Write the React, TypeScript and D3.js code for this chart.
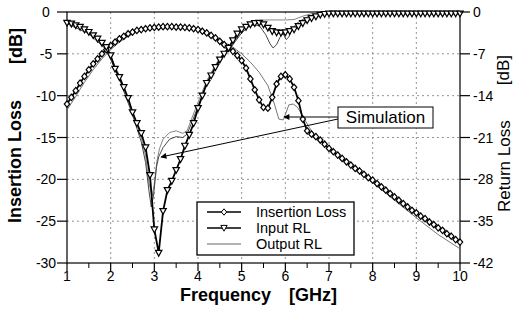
import React from "react";
import * as d3 from "d3";

// Measured sweep: 1.0 .. 10.0 GHz, 0.1 GHz step
const freqs: number[] = d3.range(0, 91).map((i) => 1 + i / 10);

// Insertion Loss [dB] (left axis)
const insertionLoss: number[] = [
  -11.0, -10.2, -9.4, -8.5, -7.7, -6.9, -6.2, -5.6, -5.0, -4.5,
  -4.0, -3.6, -3.2, -2.9, -2.6, -2.4, -2.2, -2.1, -2.0, -1.9,
  -1.85, -1.8, -1.75, -1.75, -1.75, -1.8, -1.8, -1.85, -1.9, -2.0,
  -2.1, -2.3, -2.5, -2.8, -3.1, -3.5, -3.9, -4.3, -4.7, -5.2,
  -5.8, -6.7, -8.0, -9.3, -10.5, -11.4, -11.5, -10.2, -8.6, -7.7,
  -7.5, -8.0, -9.0, -10.6, -12.8, -14.2, -14.6, -14.9, -15.3, -15.8,
  -16.3, -16.7, -17.1, -17.5, -17.9, -18.3, -18.7, -19.0, -19.4, -19.8,
  -20.1, -20.5, -20.9, -21.3, -21.7, -22.1, -22.5, -22.9, -23.3, -23.7,
  -24.0, -24.4, -24.7, -25.1, -25.4, -25.8, -26.1, -26.5, -26.8, -27.2,
  -27.5,
];

// Input RL (in left-axis units; right axis shares the same scale as 0..-42)
const inputRL: number[] = [
  -1.3, -1.4, -1.6, -1.8, -2.1, -2.4, -2.8, -3.2, -3.7, -4.2,
  -5.2, -6.8, -7.8, -9.0, -10.3, -12.0, -13.3, -14.5, -16.2, -19.5,
  -26.0, -28.8, -23.8, -21.3, -20.2, -18.9, -17.6, -16.0, -14.7, -13.3,
  -11.5, -10.0, -8.5, -7.6, -6.6, -5.7, -5.0, -4.3, -3.4, -2.6,
  -2.1, -1.8, -1.5, -1.35, -1.3, -1.5, -1.9, -2.3, -2.45, -2.5,
  -2.45, -2.3, -2.1, -1.7, -1.35, -1.0, -0.75, -0.55, -0.35, -0.25,
  -0.2, -0.2, -0.2, -0.2, -0.2, -0.2, -0.2, -0.2, -0.2, -0.2,
  -0.2, -0.2, -0.2, -0.2, -0.2, -0.2, -0.2, -0.2, -0.2, -0.2,
  -0.2, -0.2, -0.2, -0.2, -0.2, -0.2, -0.2, -0.2, -0.2, -0.2,
  -0.2,
];

// Output RL (thin line)
const outFreq: number[] = [1.0, 1.5, 1.9, 2.2, 2.5, 2.7, 2.8, 2.88, 2.93, 2.98, 3.05, 3.1, 3.2, 3.35, 3.5, 3.65, 3.75, 3.85, 4.0, 4.2, 4.4, 4.6, 4.8, 5.0, 5.2, 5.4, 5.55, 5.65, 5.72, 5.8, 5.88, 5.95, 6.02, 6.08, 6.15, 6.3, 6.5, 6.7, 7.0, 8.0, 9.0, 10.0];
const outputRL: number[] = [-1.4, -2.6, -4.5, -8.0, -12.3, -15.5, -18.0, -21.5, -23.3, -22.0, -18.5, -17.3, -16.2, -15.2, -14.9, -15.0, -14.6, -13.3, -11.3, -8.6, -6.6, -5.1, -3.9, -2.5, -1.6, -1.6, -2.7, -3.8, -4.3, -3.9, -3.0, -2.6, -3.3, -3.0, -2.0, -1.2, -0.6, -0.3, -0.15, -0.1, -0.1, -0.1];

// Simulated return loss
const simRLFreq: number[] = [1.0, 1.5, 1.9, 2.2, 2.5, 2.7, 2.8, 2.88, 2.95, 3.0, 3.06, 3.12, 3.2, 3.35, 3.5, 3.65, 3.75, 3.85, 4.0, 4.2, 4.4, 4.6, 4.8, 5.0, 5.2, 5.4, 5.6, 5.8, 6.0, 6.2, 6.4, 6.6, 7.0, 10.0];
const simRL: number[] = [-1.2, -2.3, -4.1, -7.6, -11.8, -15.0, -17.2, -20.5, -22.0, -20.5, -17.8, -16.3, -15.2, -14.4, -14.2, -14.5, -14.2, -12.8, -10.8, -8.2, -6.3, -4.8, -3.6, -2.3, -1.4, -1.0, -0.95, -0.95, -0.95, -0.9, -0.5, -0.2, -0.1, -0.05];

// Simulated insertion loss
const simILFreq: number[] = [1.0, 1.2, 1.4, 1.6, 1.8, 2.0, 2.2, 2.4, 2.6, 2.8, 3.0, 3.4, 3.8, 4.0, 4.2, 4.4, 4.6, 4.8, 5.0, 5.2, 5.4, 5.6, 5.75, 5.85, 5.95, 6.02, 6.08, 6.18, 6.28, 6.4, 6.55, 6.7, 6.9, 7.2, 7.6, 8.0, 8.5, 9.0, 9.5, 10.0];
const simIL: number[] = [-11.7, -10.1, -8.4, -6.9, -5.6, -4.5, -3.6, -2.9, -2.4, -2.1, -1.95, -1.85, -1.95, -2.1, -2.5, -3.0, -3.6, -4.2, -5.0, -6.0, -7.2, -8.8, -11.0, -12.8, -12.9, -12.0, -11.1, -11.0, -11.4, -12.5, -13.8, -14.9, -16.0, -17.3, -18.9, -20.4, -22.5, -24.6, -26.6, -28.3];

const xTicks: number[] = [1, 2, 3, 4, 5, 6, 7, 8, 9, 10];
const leftTicks: number[] = [0, -5, -10, -15, -20, -25, -30];
const rightTicks: number[] = [0, -7, -14, -21, -28, -35, -42];
const legendLabels: string[] = ["Insertion Loss", "Input RL", "Output RL"];
const annotationText = "Simulation";

const FONT = "'Liberation Sans', Arial, sans-serif";

export default function App() {
  const x = d3.scaleLinear().domain([1, 10]).range([67, 460]);
  const yL = d3.scaleLinear().domain([-30, 0]).range([263, 12]);
  const yR = d3.scaleLinear().domain([-42, 0]).range([263, 12]);

  const line = d3
    .line<[number, number]>()
    .x((d) => x(d[0]))
    .y((d) => yL(d[1]));

  const ilPts: [number, number][] = freqs.map((f, i) => [f, insertionLoss[i]]);
  const rlPts: [number, number][] = freqs.map((f, i) => [f, inputRL[i]]);
  const outPts: [number, number][] = outFreq.map((f, i) => [f, outputRL[i]]);
  const simRLPts: [number, number][] = simRLFreq.map((f, i) => [f, simRL[i]]);
  const simILPts: [number, number][] = simILFreq.map((f, i) => [f, simIL[i]]);

  const diamond = (cx: number, cy: number, s = 1) =>
    `M${cx},${cy - 3.2 * s}L${cx + 2.7 * s},${cy}L${cx},${cy + 3.2 * s}L${cx - 2.7 * s},${cy}Z`;
  const tri = (cx: number, cy: number, s = 1) =>
    `M${cx - 3.2 * s},${cy - 2.6 * s}L${cx + 3.2 * s},${cy - 2.6 * s}L${cx},${cy + 3.2 * s}Z`;

  const minorX = d3.range(1.5, 10, 1);

  // legend geometry
  const lgX = 197, lgY = 202, lgW = 157, lgH = 53;
  const rowY = [212, 228, 244];

  // annotation box
  const bx = 338, by = 107, bw = 95, bh = 21;

  return (
    <svg
      width={515}
      height={317}
      style={{ position: "absolute", left: 0, top: 0, background: "#fff" }}
      fontFamily={FONT}
    >
      <defs>
        <marker id="arr" viewBox="0 0 10 10" refX="9" refY="5" markerWidth="9" markerHeight="6" orient="auto">
          <path d="M0,0L10,5L0,10Z" fill="#000" />
        </marker>
      </defs>
      <rect x={0} y={0} width={515} height={317} fill="#fff" />

      {/* grid */}
      {xTicks.slice(1, -1).map((t) => (
        <line key={"gx" + t} x1={x(t)} x2={x(t)} y1={yL(0)} y2={yL(-30)} stroke="#777" strokeWidth={0.8} strokeDasharray="2,3" />
      ))}
      {leftTicks.slice(1, -1).map((t) => (
        <line key={"gy" + t} x1={x(1)} x2={x(10)} y1={yL(t)} y2={yL(t)} stroke="#777" strokeWidth={0.8} strokeDasharray="2,3" />
      ))}

      {/* frame */}
      <rect x={x(1)} y={yL(0)} width={x(10) - x(1)} height={yL(-30) - yL(0)} fill="none" stroke="#000" strokeWidth={1.2} />

      {/* thin lines */}
      <path d={line(simILPts) || ""} fill="none" stroke="#666" strokeWidth={0.9} />
      <path d={line(simRLPts) || ""} fill="none" stroke="#777" strokeWidth={0.9} />
      <path d={line(outPts) || ""} fill="none" stroke="#333" strokeWidth={0.9} />

      {/* measured thick lines */}
      <path d={line(ilPts) || ""} fill="none" stroke="#000" strokeWidth={1.8} />
      <path d={line(rlPts) || ""} fill="none" stroke="#000" strokeWidth={1.8} />
      {ilPts.map((p, i) => (
        <path key={"d" + i} d={diamond(x(p[0]), yL(p[1]))} fill="#fff" stroke="#000" strokeWidth={1.2} />
      ))}
      {rlPts.map((p, i) => (
        <path key={"t" + i} d={tri(x(p[0]), yL(p[1]))} fill="#fff" stroke="#000" strokeWidth={1.2} />
      ))}

      {/* axes ticks */}
      {xTicks.map((t) => (
        <g key={"xt" + t}>
          <line x1={x(t)} x2={x(t)} y1={263} y2={271} stroke="#000" strokeWidth={1.2} />
          <text x={x(t)} y={281} fontSize={14} textAnchor="middle">{t}</text>
        </g>
      ))}
      {minorX.map((t) => (
        <line key={"mx" + t} x1={x(t)} x2={x(t)} y1={263} y2={268} stroke="#000" strokeWidth={1} />
      ))}
      {leftTicks.map((t) => (
        <g key={"lt" + t}>
          <line x1={57} x2={67} y1={yL(t)} y2={yL(t)} stroke="#000" strokeWidth={1.2} />
          <text x={46} y={yL(t) + 5} fontSize={14} textAnchor="middle">{t}</text>
        </g>
      ))}
      {rightTicks.map((t) => (
        <g key={"rt" + t}>
          <line x1={460} x2={470} y1={yR(t)} y2={yR(t)} stroke="#000" strokeWidth={1.2} />
          <text x={473} y={yR(t) + 5} fontSize={14} textAnchor="start">{t}</text>
        </g>
      ))}

      {/* axis titles */}
      <text x={180} y={301} fontSize={18} fontWeight="bold">Frequency</text>
      <text x={289} y={301} fontSize={18} fontWeight="bold">[GHz]</text>
      <text transform="translate(21,223) rotate(-90)" fontSize={18} fontWeight="bold">Insertion Loss</text>
      <text transform="translate(22,28) rotate(-90)" fontSize={18} fontWeight="bold" textAnchor="end">[dB]</text>
      <text transform="translate(510,212) rotate(-90)" fontSize={17}>Return Loss</text>
      <text transform="translate(509,55) rotate(-90)" fontSize={17} textAnchor="end">[dB]</text>

      {/* legend */}
      <rect x={lgX} y={lgY} width={lgW} height={lgH} fill="#fff" stroke="#000" strokeWidth={1.3} />
      <line x1={207} x2={241} y1={rowY[0]} y2={rowY[0]} stroke="#000" strokeWidth={1.6} />
      <path d={diamond(224, rowY[0])} fill="#fff" stroke="#000" strokeWidth={1} />
      <line x1={207} x2={241} y1={rowY[1]} y2={rowY[1]} stroke="#000" strokeWidth={1.6} />
      <path d={tri(224, rowY[1])} fill="#fff" stroke="#000" strokeWidth={1} />
      <line x1={207} x2={241} y1={rowY[2]} y2={rowY[2]} stroke="#666" strokeWidth={1} />
      {legendLabels.map((l, i) => (
        <text key={l} x={256} y={rowY[i] + 5} fontSize={14.5}>{l}</text>
      ))}

      {/* simulation annotation */}
      <line x1={bx} y1={117} x2={284} y2={117} stroke="#000" strokeWidth={1} markerEnd="url(#arr)" />
      <line x1={bx} y1={119} x2={161} y2={157} stroke="#000" strokeWidth={1} markerEnd="url(#arr)" />
      <rect x={bx} y={by} width={bw} height={bh} fill="#fff" stroke="#000" strokeWidth={1} />
      <text x={bx + bw / 2} y={by + 16} fontSize={17} textAnchor="middle">{annotationText}</text>
    </svg>
  );
}
